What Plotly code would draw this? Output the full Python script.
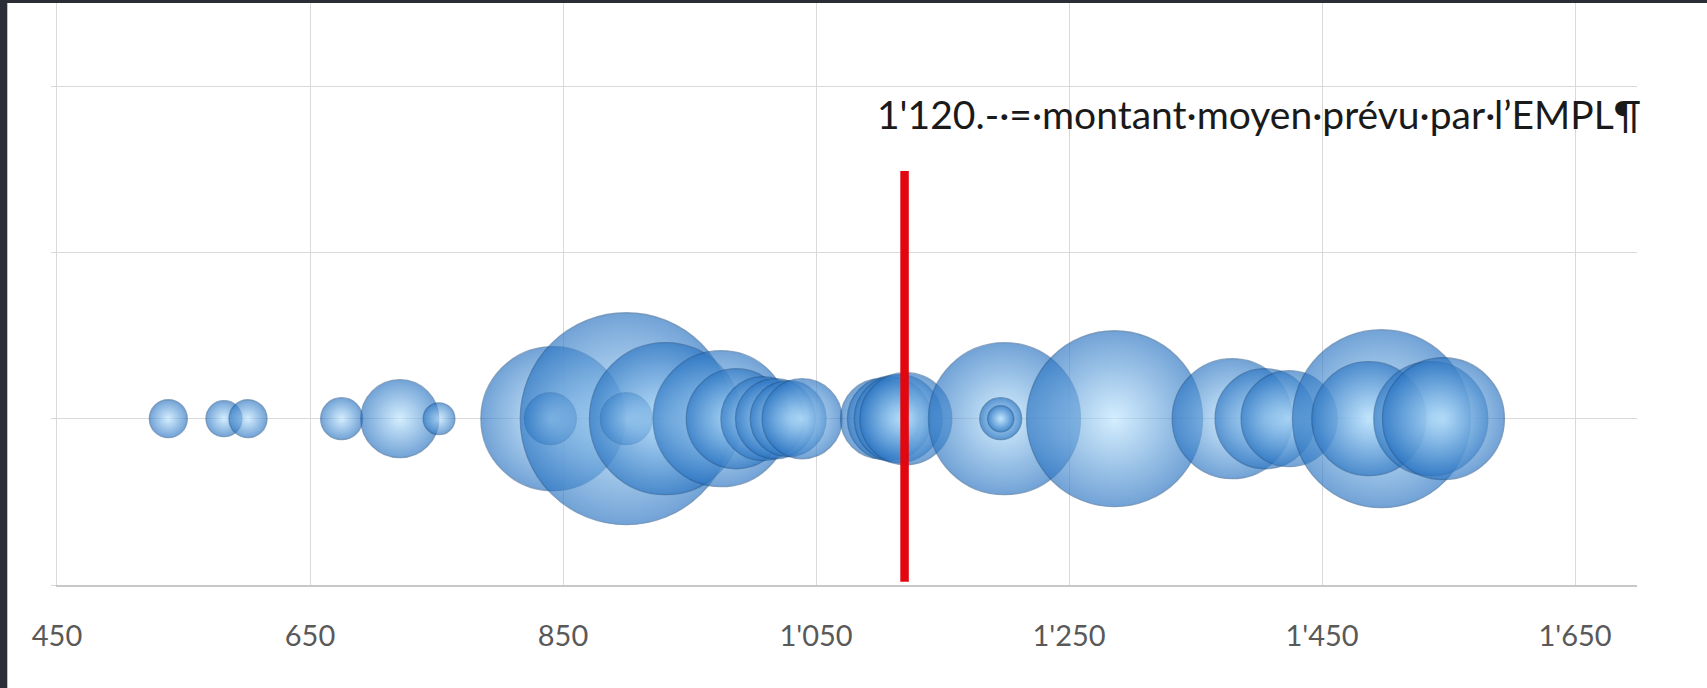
import plotly.graph_objects as go

# Monthly amounts (CHF) and the number of households at each amount
amounts = [538, 582, 601, 675, 721, 752,
           842, 840, 900, 900, 931, 975, 987, 1008, 1018, 1028, 1039,
           1101, 1108, 1115, 1121,
           1199, 1196, 1196, 1286, 1379, 1405, 1424, 1497, 1487, 1536, 1546]
households = [40, 36, 40, 49, 169, 28,
              576, 75, 1248, 75, 642, 514, 278, 196, 178, 160, 178,
              178, 196, 215, 235,
              642, 49, 19, 860, 400, 278, 256, 880, 361, 361, 413]
row = [0] * len(amounts)

# Average amount foreseen by the EMPL
mean_amount = 1120
mean_line_y = [-0.98, 1.49]
mean_label = "1'120.-·=·montant·moyen·prévu·par·l’EMPL¶"

tick_vals = [450, 650, 850, 1050, 1250, 1450, 1650]
tick_text = ["450", "650", "850", "1'050", "1'250", "1'450", "1'650"]

W, H = 1707, 688
ML, MR, MT, MB = 57, 70, 3, 103
PW, PH = W - ML - MR, H - MT - MB

fig = go.Figure()

fig.add_trace(go.Scatter(
    x=amounts, y=row, mode="markers",
    marker=dict(
        size=households, sizemode="area", sizeref=1 / 18,
        color="#2a74c2",
        gradient=dict(type="radial", color="#bfe6ff"),
        opacity=0.66,
        line=dict(width=1.3, color="rgba(30,80,135,0.75)"),
    ),
    hoverinfo="x", showlegend=False,
))

fig.add_trace(go.Scatter(
    x=[mean_amount, mean_amount], y=mean_line_y, mode="lines",
    line=dict(color="#e2070f", width=8.5),
    hoverinfo="skip", showlegend=False,
))

fig.add_annotation(
    text=mean_label, xref="paper", yref="paper",
    x=(875 - ML) / PW, y=(H - MB - 114) / PH,
    xanchor="left", yanchor="middle", showarrow=False,
    font=dict(family="Lato", size=39, color="#1a1a1a"),
)

dark = "#2b2e36"
fig.add_shape(type="rect", xref="paper", yref="paper", layer="above",
              x0=-ML / PW, x1=(7.3 - ML) / PW, y0=-MB / PH, y1=1 + MT / PH,
              line=dict(width=0), fillcolor=dark)
fig.add_shape(type="rect", xref="paper", yref="paper", layer="above",
              x0=-ML / PW, x1=1 + MR / PW, y0=1, y1=1 + MT / PH,
              line=dict(width=0), fillcolor=dark)

fig.update_layout(
    width=W, height=H, autosize=False,
    margin=dict(l=ML, r=MR, t=MT, b=MB, pad=0),
    paper_bgcolor="white", plot_bgcolor="white",
    xaxis=dict(
        range=[450, 1699], tickvals=tick_vals, ticktext=tick_text,
        showgrid=True, gridcolor="#d9d9d9", gridwidth=1,
        showline=True, linecolor="#c8c8c8", linewidth=2,
        zeroline=False, ticks="", ticklabelstandoff=24,
        tickfont=dict(family="Lato", size=29, color="#595959"),
    ),
    yaxis=dict(
        range=[-1, 2.5], tickvals=[-1, 0, 1, 2], showticklabels=False,
        showgrid=True, gridcolor="#d9d9d9", gridwidth=1,
        showline=True, linecolor="#d9d9d9", linewidth=1,
        zeroline=False, ticks="outside", ticklen=5, tickcolor="#d9d9d9",
    ),
)

fig.write_html("out.html")
